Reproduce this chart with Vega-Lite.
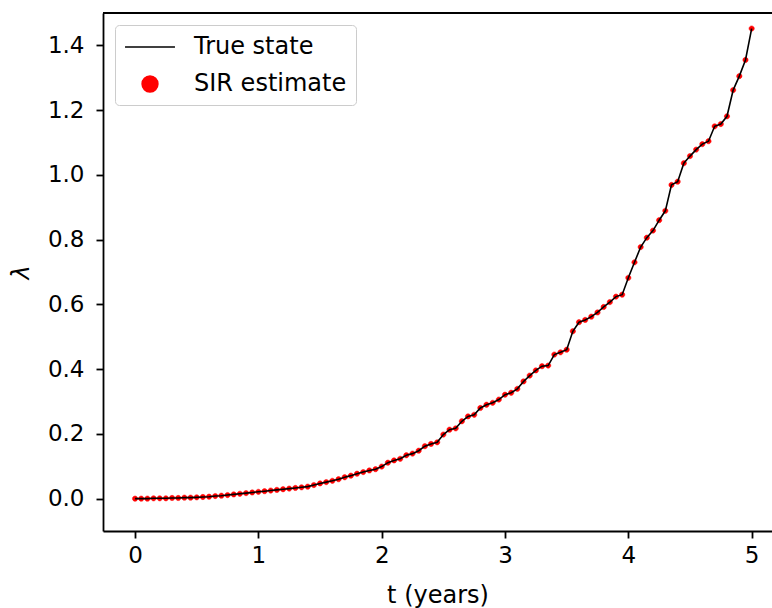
{
  "$schema": "https://vega.github.io/schema/vega-lite/v6.json",
  "autosize": "none",
  "width": 669,
  "height": 518,
  "padding": {"left": 103, "top": 13, "right": 0, "bottom": 77},
  "background": "white",
  "datasets": {
    "series": [
      {"t":0.00,"lam":0.000},{"t":0.05,"lam":0.000},{"t":0.10,"lam":0.000},{"t":0.15,"lam":0.001},{"t":0.20,"lam":0.001},
      {"t":0.25,"lam":0.001},{"t":0.30,"lam":0.002},{"t":0.35,"lam":0.002},{"t":0.40,"lam":0.003},{"t":0.45,"lam":0.003},
      {"t":0.50,"lam":0.004},{"t":0.55,"lam":0.005},{"t":0.60,"lam":0.006},{"t":0.65,"lam":0.008},{"t":0.70,"lam":0.009},
      {"t":0.75,"lam":0.011},{"t":0.80,"lam":0.013},{"t":0.85,"lam":0.015},{"t":0.90,"lam":0.017},{"t":0.95,"lam":0.019},
      {"t":1.00,"lam":0.021},{"t":1.05,"lam":0.023},{"t":1.10,"lam":0.025},{"t":1.15,"lam":0.027},{"t":1.20,"lam":0.029},
      {"t":1.25,"lam":0.031},{"t":1.30,"lam":0.033},{"t":1.35,"lam":0.035},{"t":1.40,"lam":0.037},{"t":1.45,"lam":0.042},
      {"t":1.50,"lam":0.047},{"t":1.55,"lam":0.051},{"t":1.60,"lam":0.055},{"t":1.65,"lam":0.060},{"t":1.70,"lam":0.066},
      {"t":1.75,"lam":0.071},{"t":1.80,"lam":0.077},{"t":1.85,"lam":0.082},{"t":1.90,"lam":0.087},{"t":1.95,"lam":0.091},
      {"t":2.00,"lam":0.099},{"t":2.05,"lam":0.111},{"t":2.10,"lam":0.118},{"t":2.15,"lam":0.123},{"t":2.20,"lam":0.134},
      {"t":2.25,"lam":0.139},{"t":2.30,"lam":0.148},{"t":2.35,"lam":0.162},{"t":2.40,"lam":0.169},{"t":2.45,"lam":0.174},
      {"t":2.50,"lam":0.198},{"t":2.55,"lam":0.213},{"t":2.60,"lam":0.217},{"t":2.65,"lam":0.239},{"t":2.70,"lam":0.254},
      {"t":2.75,"lam":0.259},{"t":2.80,"lam":0.280},{"t":2.85,"lam":0.290},{"t":2.90,"lam":0.296},{"t":2.95,"lam":0.306},
      {"t":3.00,"lam":0.321},{"t":3.05,"lam":0.327},{"t":3.10,"lam":0.339},{"t":3.15,"lam":0.362},{"t":3.20,"lam":0.380},
      {"t":3.25,"lam":0.396},{"t":3.30,"lam":0.409},{"t":3.35,"lam":0.411},{"t":3.40,"lam":0.445},{"t":3.45,"lam":0.452},
      {"t":3.50,"lam":0.460},{"t":3.55,"lam":0.517},{"t":3.60,"lam":0.545},{"t":3.65,"lam":0.552},{"t":3.70,"lam":0.562},
      {"t":3.75,"lam":0.575},{"t":3.80,"lam":0.592},{"t":3.85,"lam":0.607},{"t":3.90,"lam":0.624},{"t":3.95,"lam":0.630},
      {"t":4.00,"lam":0.682},{"t":4.05,"lam":0.730},{"t":4.10,"lam":0.777},{"t":4.15,"lam":0.806},{"t":4.20,"lam":0.828},
      {"t":4.25,"lam":0.860},{"t":4.30,"lam":0.889},{"t":4.35,"lam":0.969},{"t":4.40,"lam":0.979},{"t":4.45,"lam":1.036},
      {"t":4.50,"lam":1.058},{"t":4.55,"lam":1.078},{"t":4.60,"lam":1.095},{"t":4.65,"lam":1.104},{"t":4.70,"lam":1.150},
      {"t":4.75,"lam":1.157},{"t":4.80,"lam":1.181},{"t":4.85,"lam":1.262},{"t":4.90,"lam":1.305},{"t":4.95,"lam":1.355},
      {"t":5.00,"lam":1.452}
    ],
    "frame": [{"top": 1.5}]
  },
  "layer": [
    {"data": {"name": "frame"},
     "mark": {"type": "rule", "color": "#000000", "strokeWidth": 1.8},
     "encoding": {"y": {"field": "top", "type": "quantitative"}}},
    {"data": {"name": "series"},
     "mark": {"type": "point", "filled": true, "size": 64, "opacity": 1, "strokeWidth": 0.5},
     "encoding": {
       "x": {"field": "t", "type": "quantitative"},
       "y": {"field": "lam", "type": "quantitative"},
       "color": {"datum": "SIR estimate", "type": "nominal",
         "scale": {"domain": ["True state", "SIR estimate"], "range": ["#000000", "#ff0000"]},
         "legend": {"title": null}},
       "stroke": {"datum": "SIR estimate", "type": "nominal",
         "scale": {"domain": ["True state", "SIR estimate"], "range": ["#000000", "#ff0000"]},
         "legend": {"title": null}},
       "shape": {"datum": "SIR estimate", "type": "nominal",
         "scale": {"domain": ["True state", "SIR estimate"],
           "range": ["M-2.08,0H2.08", "M-0.66,0A0.66,0.66 0 1,0 0.66,0A0.66,0.66 0 1,0 -0.66,0Z"]},
         "legend": {"title": null}}
     }},
    {"data": {"name": "series"},
     "mark": {"type": "line", "strokeWidth": 1.6, "color": "#000000"},
     "encoding": {
       "x": {"field": "t", "type": "quantitative",
         "scale": {"domain": [-0.26, 5.165], "nice": false, "zero": false},
         "axis": {"values": [0,1,2,3,4,5], "format": "d", "title": "t (years)", "titlePadding": 16, "labelPadding": 6}},
       "y": {"field": "lam", "type": "quantitative",
         "scale": {"domain": [-0.1, 1.5], "nice": false, "zero": false},
         "axis": {"values": [0,0.2,0.4,0.6,0.8,1.0,1.2,1.4], "format": ".1f", "title": "λ", "titleFontStyle": "italic", "titlePadding": 14, "labelPadding": 12}}
     }}
  ],
  "config": {
    "font": "DejaVu Sans",
    "view": {"stroke": null},
    "legend": {
      "orient": "top-left",
      "offset": 12,
      "padding": 9,
      "symbolSize": 576,
      "symbolOffset": 13,
      "symbolStrokeWidth": 1.5,
      "labelOffset": 31,
      "rowPadding": 12,
      "fillColor": "rgba(255,255,255,0.8)",
      "strokeColor": "#cccccc",
      "cornerRadius": 4,
      "labelFontSize": 24,
      "labelFont": "DejaVu Sans",
      "labelColor": "#000000"
    },
    "axis": {
      "domain": true,
      "domainColor": "#000000",
      "domainWidth": 1.8,
      "grid": false,
      "ticks": true,
      "tickSize": 7,
      "tickWidth": 1.8,
      "tickColor": "#000000",
      "labelFont": "DejaVu Sans",
      "labelFontSize": 23,
      "labelColor": "#000000",
      "titleFont": "DejaVu Sans",
      "titleFontSize": 24,
      "titleFontWeight": "normal",
      "titleColor": "#000000"
    }
  }
}
